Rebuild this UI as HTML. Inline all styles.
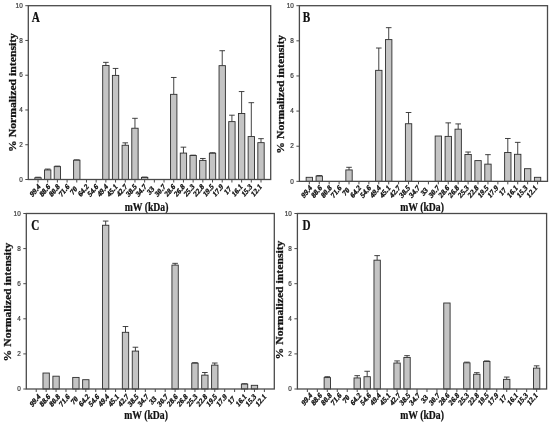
<!DOCTYPE html>
<html><head><meta charset="utf-8"><style>
html,body{margin:0;padding:0;background:#fff;}
body{width:550px;height:423px;overflow:hidden;}
svg{display:block;filter:grayscale(1);}
.fr{fill:none;stroke:#4a4a4a;stroke-width:1.3;}
.tk{stroke:#4a4a4a;stroke-width:1;}
.bar{fill:#c4c4c4;stroke:#2e2e2e;stroke-width:0.9;}
.eb{stroke:#2e2e2e;stroke-width:0.9;}
.yt{font-family:"Liberation Sans",sans-serif;font-size:6.4px;fill:#3a3a3a;stroke:#3a3a3a;stroke-width:0.2;text-anchor:end;}
.xt{font-family:"Liberation Serif",serif;font-weight:bold;font-size:6.8px;fill:#111;stroke:#111;stroke-width:0.3;text-anchor:middle;}
.lt{font-family:"Liberation Serif",serif;font-weight:bold;font-size:11.2px;fill:#111;stroke:#111;stroke-width:0.2;}
.yl{font-family:"Liberation Serif",serif;font-weight:bold;font-size:10px;fill:#111;stroke:#111;stroke-width:0.25;text-anchor:middle;}
.xl{font-family:"Liberation Serif",serif;font-weight:bold;font-size:9.7px;fill:#111;stroke:#111;stroke-width:0.2;text-anchor:middle;}
</style></head><body>
<svg width="550" height="423" viewBox="0 0 550 423">
<line x1="38" y1="177.76" x2="38" y2="177.24" class="eb"/>
<line x1="35.2" y1="177.24" x2="40.8" y2="177.24" class="eb"/>
<rect x="34.82" y="177.76" width="6.35" height="1.74" class="bar"/>
<line x1="47.69" y1="169.94" x2="47.69" y2="169.07" class="eb"/>
<line x1="44.89" y1="169.07" x2="50.49" y2="169.07" class="eb"/>
<rect x="44.52" y="169.94" width="6.35" height="9.56" class="bar"/>
<line x1="57.39" y1="166.64" x2="57.39" y2="166.12" class="eb"/>
<line x1="54.59" y1="166.12" x2="60.19" y2="166.12" class="eb"/>
<rect x="54.21" y="166.64" width="6.35" height="12.86" class="bar"/>
<line x1="76.78" y1="160.21" x2="76.78" y2="159.86" class="eb"/>
<line x1="73.98" y1="159.86" x2="79.58" y2="159.86" class="eb"/>
<rect x="73.61" y="160.21" width="6.35" height="19.29" class="bar"/>
<line x1="105.87" y1="65.49" x2="105.87" y2="62.36" class="eb"/>
<line x1="103.07" y1="62.36" x2="108.67" y2="62.36" class="eb"/>
<rect x="102.69" y="65.49" width="6.35" height="114.01" class="bar"/>
<line x1="115.56" y1="75.39" x2="115.56" y2="68.44" class="eb"/>
<line x1="112.76" y1="68.44" x2="118.36" y2="68.44" class="eb"/>
<rect x="112.39" y="75.39" width="6.35" height="104.11" class="bar"/>
<line x1="125.26" y1="145.26" x2="125.26" y2="142.83" class="eb"/>
<line x1="122.46" y1="142.83" x2="128.06" y2="142.83" class="eb"/>
<rect x="122.08" y="145.26" width="6.35" height="34.24" class="bar"/>
<line x1="134.96" y1="128.23" x2="134.96" y2="118.32" class="eb"/>
<line x1="132.16" y1="118.32" x2="137.76" y2="118.32" class="eb"/>
<rect x="131.78" y="128.23" width="6.35" height="51.27" class="bar"/>
<line x1="144.65" y1="177.41" x2="144.65" y2="177.07" class="eb"/>
<line x1="141.85" y1="177.07" x2="147.45" y2="177.07" class="eb"/>
<rect x="141.48" y="177.41" width="6.35" height="2.09" class="bar"/>
<line x1="173.74" y1="94.34" x2="173.74" y2="77.48" class="eb"/>
<line x1="170.94" y1="77.48" x2="176.54" y2="77.48" class="eb"/>
<rect x="170.56" y="94.34" width="6.35" height="85.16" class="bar"/>
<line x1="183.44" y1="153.08" x2="183.44" y2="147.17" class="eb"/>
<line x1="180.64" y1="147.17" x2="186.24" y2="147.17" class="eb"/>
<rect x="180.26" y="153.08" width="6.35" height="26.42" class="bar"/>
<line x1="193.13" y1="155.52" x2="193.13" y2="155.17" class="eb"/>
<line x1="190.33" y1="155.17" x2="195.93" y2="155.17" class="eb"/>
<rect x="189.96" y="155.52" width="6.35" height="23.98" class="bar"/>
<line x1="202.83" y1="160.38" x2="202.83" y2="158.47" class="eb"/>
<line x1="200.03" y1="158.47" x2="205.63" y2="158.47" class="eb"/>
<rect x="199.65" y="160.38" width="6.35" height="19.12" class="bar"/>
<line x1="212.52" y1="153.26" x2="212.52" y2="152.73" class="eb"/>
<line x1="209.72" y1="152.73" x2="215.32" y2="152.73" class="eb"/>
<rect x="209.35" y="153.26" width="6.35" height="26.24" class="bar"/>
<line x1="222.22" y1="65.66" x2="222.22" y2="50.71" class="eb"/>
<line x1="219.42" y1="50.71" x2="225.02" y2="50.71" class="eb"/>
<rect x="219.04" y="65.66" width="6.35" height="113.84" class="bar"/>
<line x1="231.92" y1="121.62" x2="231.92" y2="115.19" class="eb"/>
<line x1="229.12" y1="115.19" x2="234.72" y2="115.19" class="eb"/>
<rect x="228.74" y="121.62" width="6.35" height="57.88" class="bar"/>
<line x1="241.61" y1="113.46" x2="241.61" y2="91.56" class="eb"/>
<line x1="238.81" y1="91.56" x2="244.41" y2="91.56" class="eb"/>
<rect x="238.44" y="113.46" width="6.35" height="66.04" class="bar"/>
<line x1="251.31" y1="136.57" x2="251.31" y2="102.68" class="eb"/>
<line x1="248.51" y1="102.68" x2="254.11" y2="102.68" class="eb"/>
<rect x="248.13" y="136.57" width="6.35" height="42.93" class="bar"/>
<line x1="261" y1="142.65" x2="261" y2="138.66" class="eb"/>
<line x1="258.2" y1="138.66" x2="263.8" y2="138.66" class="eb"/>
<rect x="257.83" y="142.65" width="6.35" height="36.85" class="bar"/>
<rect x="28.3" y="5.7" width="242.4" height="173.8" class="fr"/>
<line x1="25.3" y1="179.5" x2="28.3" y2="179.5" class="tk"/>
<text transform="translate(22.7 181.7) scale(1 1.2)" class="yt">0</text>
<line x1="25.3" y1="144.74" x2="28.3" y2="144.74" class="tk"/>
<text transform="translate(22.7 146.94) scale(1 1.2)" class="yt">2</text>
<line x1="25.3" y1="109.98" x2="28.3" y2="109.98" class="tk"/>
<text transform="translate(22.7 112.18) scale(1 1.2)" class="yt">4</text>
<line x1="25.3" y1="75.22" x2="28.3" y2="75.22" class="tk"/>
<text transform="translate(22.7 77.42) scale(1 1.2)" class="yt">6</text>
<line x1="25.3" y1="40.46" x2="28.3" y2="40.46" class="tk"/>
<text transform="translate(22.7 42.66) scale(1 1.2)" class="yt">8</text>
<line x1="25.3" y1="5.7" x2="28.3" y2="5.7" class="tk"/>
<text transform="translate(22.7 7.9) scale(1 1.2)" class="yt">10</text>
<line x1="38" y1="179.5" x2="38" y2="182.5" class="tk"/>
<text transform="translate(36.79 192.25) scale(1 1.2) rotate(-45)" class="xt">99.4</text>
<line x1="47.69" y1="179.5" x2="47.69" y2="182.5" class="tk"/>
<text transform="translate(46.41 192.25) scale(1 1.2) rotate(-45)" class="xt">88.6</text>
<line x1="57.39" y1="179.5" x2="57.39" y2="182.5" class="tk"/>
<text transform="translate(56.02 192.25) scale(1 1.2) rotate(-45)" class="xt">80.8</text>
<line x1="67.08" y1="179.5" x2="67.08" y2="182.5" class="tk"/>
<text transform="translate(65.64 192.25) scale(1 1.2) rotate(-45)" class="xt">71.6</text>
<line x1="76.78" y1="179.5" x2="76.78" y2="182.5" class="tk"/>
<text transform="translate(75.26 192.25) scale(1 1.2) rotate(-45)" class="xt">70</text>
<line x1="86.48" y1="179.5" x2="86.48" y2="182.5" class="tk"/>
<text transform="translate(84.88 192.25) scale(1 1.2) rotate(-45)" class="xt">64.2</text>
<line x1="96.17" y1="179.5" x2="96.17" y2="182.5" class="tk"/>
<text transform="translate(94.5 192.25) scale(1 1.2) rotate(-45)" class="xt">54.6</text>
<line x1="105.87" y1="179.5" x2="105.87" y2="182.5" class="tk"/>
<text transform="translate(104.11 192.25) scale(1 1.2) rotate(-45)" class="xt">49.4</text>
<line x1="115.56" y1="179.5" x2="115.56" y2="182.5" class="tk"/>
<text transform="translate(113.73 192.25) scale(1 1.2) rotate(-45)" class="xt">45.1</text>
<line x1="125.26" y1="179.5" x2="125.26" y2="182.5" class="tk"/>
<text transform="translate(123.35 192.25) scale(1 1.2) rotate(-45)" class="xt">42.7</text>
<line x1="134.96" y1="179.5" x2="134.96" y2="182.5" class="tk"/>
<text transform="translate(132.97 192.25) scale(1 1.2) rotate(-45)" class="xt">38.5</text>
<line x1="144.65" y1="179.5" x2="144.65" y2="182.5" class="tk"/>
<text transform="translate(142.58 192.25) scale(1 1.2) rotate(-45)" class="xt">34.7</text>
<line x1="154.35" y1="179.5" x2="154.35" y2="182.5" class="tk"/>
<text transform="translate(152.2 192.25) scale(1 1.2) rotate(-45)" class="xt">33</text>
<line x1="164.04" y1="179.5" x2="164.04" y2="182.5" class="tk"/>
<text transform="translate(161.82 192.25) scale(1 1.2) rotate(-45)" class="xt">30.7</text>
<line x1="173.74" y1="179.5" x2="173.74" y2="182.5" class="tk"/>
<text transform="translate(171.44 192.25) scale(1 1.2) rotate(-45)" class="xt">28.6</text>
<line x1="183.44" y1="179.5" x2="183.44" y2="182.5" class="tk"/>
<text transform="translate(181.05 192.25) scale(1 1.2) rotate(-45)" class="xt">26.8</text>
<line x1="193.13" y1="179.5" x2="193.13" y2="182.5" class="tk"/>
<text transform="translate(190.67 192.25) scale(1 1.2) rotate(-45)" class="xt">25.3</text>
<line x1="202.83" y1="179.5" x2="202.83" y2="182.5" class="tk"/>
<text transform="translate(200.29 192.25) scale(1 1.2) rotate(-45)" class="xt">22.8</text>
<line x1="212.52" y1="179.5" x2="212.52" y2="182.5" class="tk"/>
<text transform="translate(209.91 192.25) scale(1 1.2) rotate(-45)" class="xt">19.5</text>
<line x1="222.22" y1="179.5" x2="222.22" y2="182.5" class="tk"/>
<text transform="translate(219.53 192.25) scale(1 1.2) rotate(-45)" class="xt">17.9</text>
<line x1="231.92" y1="179.5" x2="231.92" y2="182.5" class="tk"/>
<text transform="translate(229.14 192.25) scale(1 1.2) rotate(-45)" class="xt">17</text>
<line x1="241.61" y1="179.5" x2="241.61" y2="182.5" class="tk"/>
<text transform="translate(238.76 192.25) scale(1 1.2) rotate(-45)" class="xt">16.1</text>
<line x1="251.31" y1="179.5" x2="251.31" y2="182.5" class="tk"/>
<text transform="translate(248.38 192.25) scale(1 1.2) rotate(-45)" class="xt">15.3</text>
<line x1="261" y1="179.5" x2="261" y2="182.5" class="tk"/>
<text transform="translate(258 192.25) scale(1 1.2) rotate(-45)" class="xt">12.1</text>
<text transform="translate(31.8 22) scale(1 1.24)" class="lt">A</text>
<text transform="translate(15.7 92.5) rotate(-90) scale(1.17 1)" class="yl">% Normalized intensity</text>
<text transform="translate(146.5 210.6) scale(1 1.2)" class="xl">mW (kDa)</text>
<rect x="306.15" y="177.31" width="6.35" height="4.04" class="bar"/>
<line x1="319.25" y1="176.08" x2="319.25" y2="175.55" class="eb"/>
<line x1="316.45" y1="175.55" x2="322.05" y2="175.55" class="eb"/>
<rect x="316.07" y="176.08" width="6.35" height="5.27" class="bar"/>
<line x1="349.02" y1="169.93" x2="349.02" y2="167.3" class="eb"/>
<line x1="346.22" y1="167.3" x2="351.82" y2="167.3" class="eb"/>
<rect x="345.84" y="169.93" width="6.35" height="11.42" class="bar"/>
<line x1="378.79" y1="70.34" x2="378.79" y2="48.03" class="eb"/>
<line x1="375.99" y1="48.03" x2="381.59" y2="48.03" class="eb"/>
<rect x="375.62" y="70.34" width="6.35" height="111.01" class="bar"/>
<line x1="388.72" y1="39.6" x2="388.72" y2="27.66" class="eb"/>
<line x1="385.92" y1="27.66" x2="391.52" y2="27.66" class="eb"/>
<rect x="385.54" y="39.6" width="6.35" height="141.75" class="bar"/>
<line x1="408.56" y1="123.74" x2="408.56" y2="112.5" class="eb"/>
<line x1="405.76" y1="112.5" x2="411.36" y2="112.5" class="eb"/>
<rect x="405.39" y="123.74" width="6.35" height="57.61" class="bar"/>
<rect x="435.16" y="136.03" width="6.35" height="45.32" class="bar"/>
<line x1="448.26" y1="136.38" x2="448.26" y2="122.86" class="eb"/>
<line x1="445.46" y1="122.86" x2="451.06" y2="122.86" class="eb"/>
<rect x="445.08" y="136.38" width="6.35" height="44.97" class="bar"/>
<line x1="458.18" y1="129.18" x2="458.18" y2="123.91" class="eb"/>
<line x1="455.38" y1="123.91" x2="460.98" y2="123.91" class="eb"/>
<rect x="455.01" y="129.18" width="6.35" height="52.17" class="bar"/>
<line x1="468.11" y1="154.48" x2="468.11" y2="152.02" class="eb"/>
<line x1="465.31" y1="152.02" x2="470.91" y2="152.02" class="eb"/>
<rect x="464.93" y="154.48" width="6.35" height="26.87" class="bar"/>
<rect x="474.86" y="160.62" width="6.35" height="20.73" class="bar"/>
<line x1="487.96" y1="164.14" x2="487.96" y2="154.65" class="eb"/>
<line x1="485.16" y1="154.65" x2="490.76" y2="154.65" class="eb"/>
<rect x="484.78" y="164.14" width="6.35" height="17.21" class="bar"/>
<line x1="507.8" y1="152.54" x2="507.8" y2="138.49" class="eb"/>
<line x1="505" y1="138.49" x2="510.6" y2="138.49" class="eb"/>
<rect x="504.63" y="152.54" width="6.35" height="28.81" class="bar"/>
<line x1="517.73" y1="154.3" x2="517.73" y2="142.36" class="eb"/>
<line x1="514.93" y1="142.36" x2="520.53" y2="142.36" class="eb"/>
<rect x="514.55" y="154.3" width="6.35" height="27.05" class="bar"/>
<rect x="524.48" y="168.7" width="6.35" height="12.65" class="bar"/>
<rect x="534.4" y="177.31" width="6.35" height="4.04" class="bar"/>
<rect x="299.4" y="5.7" width="248.1" height="175.65" class="fr"/>
<line x1="296.4" y1="181.35" x2="299.4" y2="181.35" class="tk"/>
<text transform="translate(293.8 183.55) scale(1 1.2)" class="yt">0</text>
<line x1="296.4" y1="146.22" x2="299.4" y2="146.22" class="tk"/>
<text transform="translate(293.8 148.42) scale(1 1.2)" class="yt">2</text>
<line x1="296.4" y1="111.09" x2="299.4" y2="111.09" class="tk"/>
<text transform="translate(293.8 113.29) scale(1 1.2)" class="yt">4</text>
<line x1="296.4" y1="75.96" x2="299.4" y2="75.96" class="tk"/>
<text transform="translate(293.8 78.16) scale(1 1.2)" class="yt">6</text>
<line x1="296.4" y1="40.83" x2="299.4" y2="40.83" class="tk"/>
<text transform="translate(293.8 43.03) scale(1 1.2)" class="yt">8</text>
<line x1="296.4" y1="5.7" x2="299.4" y2="5.7" class="tk"/>
<text transform="translate(293.8 7.9) scale(1 1.2)" class="yt">10</text>
<line x1="309.32" y1="181.35" x2="309.32" y2="184.35" class="tk"/>
<text transform="translate(308.32 193.4) scale(1 1.2) rotate(-45)" class="xt">99.4</text>
<line x1="319.25" y1="181.35" x2="319.25" y2="184.35" class="tk"/>
<text transform="translate(318.11 193.4) scale(1 1.2) rotate(-45)" class="xt">88.6</text>
<line x1="329.17" y1="181.35" x2="329.17" y2="184.35" class="tk"/>
<text transform="translate(327.9 193.4) scale(1 1.2) rotate(-45)" class="xt">80.8</text>
<line x1="339.1" y1="181.35" x2="339.1" y2="184.35" class="tk"/>
<text transform="translate(337.7 193.4) scale(1 1.2) rotate(-45)" class="xt">71.6</text>
<line x1="349.02" y1="181.35" x2="349.02" y2="184.35" class="tk"/>
<text transform="translate(347.49 193.4) scale(1 1.2) rotate(-45)" class="xt">70</text>
<line x1="358.94" y1="181.35" x2="358.94" y2="184.35" class="tk"/>
<text transform="translate(357.28 193.4) scale(1 1.2) rotate(-45)" class="xt">64.2</text>
<line x1="368.87" y1="181.35" x2="368.87" y2="184.35" class="tk"/>
<text transform="translate(367.08 193.4) scale(1 1.2) rotate(-45)" class="xt">54.6</text>
<line x1="378.79" y1="181.35" x2="378.79" y2="184.35" class="tk"/>
<text transform="translate(376.87 193.4) scale(1 1.2) rotate(-45)" class="xt">49.4</text>
<line x1="388.72" y1="181.35" x2="388.72" y2="184.35" class="tk"/>
<text transform="translate(386.67 193.4) scale(1 1.2) rotate(-45)" class="xt">45.1</text>
<line x1="398.64" y1="181.35" x2="398.64" y2="184.35" class="tk"/>
<text transform="translate(396.46 193.4) scale(1 1.2) rotate(-45)" class="xt">42.7</text>
<line x1="408.56" y1="181.35" x2="408.56" y2="184.35" class="tk"/>
<text transform="translate(406.25 193.4) scale(1 1.2) rotate(-45)" class="xt">38.5</text>
<line x1="418.49" y1="181.35" x2="418.49" y2="184.35" class="tk"/>
<text transform="translate(416.05 193.4) scale(1 1.2) rotate(-45)" class="xt">34.7</text>
<line x1="428.41" y1="181.35" x2="428.41" y2="184.35" class="tk"/>
<text transform="translate(425.84 193.4) scale(1 1.2) rotate(-45)" class="xt">33</text>
<line x1="438.34" y1="181.35" x2="438.34" y2="184.35" class="tk"/>
<text transform="translate(435.63 193.4) scale(1 1.2) rotate(-45)" class="xt">30.7</text>
<line x1="448.26" y1="181.35" x2="448.26" y2="184.35" class="tk"/>
<text transform="translate(445.43 193.4) scale(1 1.2) rotate(-45)" class="xt">28.6</text>
<line x1="458.18" y1="181.35" x2="458.18" y2="184.35" class="tk"/>
<text transform="translate(455.22 193.4) scale(1 1.2) rotate(-45)" class="xt">26.8</text>
<line x1="468.11" y1="181.35" x2="468.11" y2="184.35" class="tk"/>
<text transform="translate(465.01 193.4) scale(1 1.2) rotate(-45)" class="xt">25.3</text>
<line x1="478.03" y1="181.35" x2="478.03" y2="184.35" class="tk"/>
<text transform="translate(474.81 193.4) scale(1 1.2) rotate(-45)" class="xt">22.8</text>
<line x1="487.96" y1="181.35" x2="487.96" y2="184.35" class="tk"/>
<text transform="translate(484.6 193.4) scale(1 1.2) rotate(-45)" class="xt">19.5</text>
<line x1="497.88" y1="181.35" x2="497.88" y2="184.35" class="tk"/>
<text transform="translate(494.39 193.4) scale(1 1.2) rotate(-45)" class="xt">17.9</text>
<line x1="507.8" y1="181.35" x2="507.8" y2="184.35" class="tk"/>
<text transform="translate(504.19 193.4) scale(1 1.2) rotate(-45)" class="xt">17</text>
<line x1="517.73" y1="181.35" x2="517.73" y2="184.35" class="tk"/>
<text transform="translate(513.98 193.4) scale(1 1.2) rotate(-45)" class="xt">16.1</text>
<line x1="527.65" y1="181.35" x2="527.65" y2="184.35" class="tk"/>
<text transform="translate(523.78 193.4) scale(1 1.2) rotate(-45)" class="xt">15.3</text>
<line x1="537.58" y1="181.35" x2="537.58" y2="184.35" class="tk"/>
<text transform="translate(533.57 193.4) scale(1 1.2) rotate(-45)" class="xt">12.1</text>
<text transform="translate(302.8 22) scale(1 1.24)" class="lt">B</text>
<text transform="translate(283.5 94.2) rotate(-90) scale(1.17 1)" class="yl">% Normalized intensity</text>
<text transform="translate(422 210.6) scale(1 1.2)" class="xl">mW (kDa)</text>
<rect x="42.97" y="373.03" width="6.35" height="15.97" class="bar"/>
<rect x="52.89" y="376.19" width="6.35" height="12.81" class="bar"/>
<rect x="72.73" y="377.42" width="6.35" height="11.58" class="bar"/>
<rect x="82.64" y="379.7" width="6.35" height="9.3" class="bar"/>
<line x1="105.66" y1="225.26" x2="105.66" y2="221.05" class="eb"/>
<line x1="102.86" y1="221.05" x2="108.46" y2="221.05" class="eb"/>
<rect x="102.48" y="225.26" width="6.35" height="163.74" class="bar"/>
<line x1="125.5" y1="332.31" x2="125.5" y2="326.52" class="eb"/>
<line x1="122.7" y1="326.52" x2="128.3" y2="326.52" class="eb"/>
<rect x="122.33" y="332.31" width="6.35" height="56.69" class="bar"/>
<line x1="135.42" y1="351.09" x2="135.42" y2="347.23" class="eb"/>
<line x1="132.62" y1="347.23" x2="138.22" y2="347.23" class="eb"/>
<rect x="132.25" y="351.09" width="6.35" height="37.91" class="bar"/>
<line x1="175.1" y1="265.1" x2="175.1" y2="263.34" class="eb"/>
<line x1="172.3" y1="263.34" x2="177.9" y2="263.34" class="eb"/>
<rect x="171.93" y="265.1" width="6.35" height="123.9" class="bar"/>
<line x1="194.94" y1="363.2" x2="194.94" y2="362.68" class="eb"/>
<line x1="192.14" y1="362.68" x2="197.74" y2="362.68" class="eb"/>
<rect x="191.76" y="363.2" width="6.35" height="25.8" class="bar"/>
<line x1="204.86" y1="375.14" x2="204.86" y2="372.5" class="eb"/>
<line x1="202.06" y1="372.5" x2="207.66" y2="372.5" class="eb"/>
<rect x="201.69" y="375.14" width="6.35" height="13.86" class="bar"/>
<line x1="214.78" y1="365.13" x2="214.78" y2="363.03" class="eb"/>
<line x1="211.98" y1="363.03" x2="217.58" y2="363.03" class="eb"/>
<rect x="211.6" y="365.13" width="6.35" height="23.87" class="bar"/>
<line x1="244.54" y1="384.09" x2="244.54" y2="383.74" class="eb"/>
<line x1="241.74" y1="383.74" x2="247.34" y2="383.74" class="eb"/>
<rect x="241.37" y="384.09" width="6.35" height="4.91" class="bar"/>
<rect x="251.28" y="385.31" width="6.35" height="3.69" class="bar"/>
<rect x="26.3" y="213.5" width="248" height="175.5" class="fr"/>
<line x1="23.3" y1="389" x2="26.3" y2="389" class="tk"/>
<text transform="translate(20.7 391.2) scale(1 1.2)" class="yt">0</text>
<line x1="23.3" y1="353.9" x2="26.3" y2="353.9" class="tk"/>
<text transform="translate(20.7 356.1) scale(1 1.2)" class="yt">2</text>
<line x1="23.3" y1="318.8" x2="26.3" y2="318.8" class="tk"/>
<text transform="translate(20.7 321) scale(1 1.2)" class="yt">4</text>
<line x1="23.3" y1="283.7" x2="26.3" y2="283.7" class="tk"/>
<text transform="translate(20.7 285.9) scale(1 1.2)" class="yt">6</text>
<line x1="23.3" y1="248.6" x2="26.3" y2="248.6" class="tk"/>
<text transform="translate(20.7 250.8) scale(1 1.2)" class="yt">8</text>
<line x1="23.3" y1="213.5" x2="26.3" y2="213.5" class="tk"/>
<text transform="translate(20.7 215.7) scale(1 1.2)" class="yt">10</text>
<line x1="36.22" y1="389" x2="36.22" y2="392" class="tk"/>
<text transform="translate(36.61 402.2) scale(1 1.2) rotate(-45)" class="xt">99.4</text>
<line x1="46.14" y1="389" x2="46.14" y2="392" class="tk"/>
<text transform="translate(46.43 402.2) scale(1 1.2) rotate(-45)" class="xt">88.6</text>
<line x1="56.06" y1="389" x2="56.06" y2="392" class="tk"/>
<text transform="translate(56.24 402.2) scale(1 1.2) rotate(-45)" class="xt">80.8</text>
<line x1="65.98" y1="389" x2="65.98" y2="392" class="tk"/>
<text transform="translate(66.06 402.2) scale(1 1.2) rotate(-45)" class="xt">71.6</text>
<line x1="75.9" y1="389" x2="75.9" y2="392" class="tk"/>
<text transform="translate(75.88 402.2) scale(1 1.2) rotate(-45)" class="xt">70</text>
<line x1="85.82" y1="389" x2="85.82" y2="392" class="tk"/>
<text transform="translate(85.69 402.2) scale(1 1.2) rotate(-45)" class="xt">64.2</text>
<line x1="95.74" y1="389" x2="95.74" y2="392" class="tk"/>
<text transform="translate(95.51 402.2) scale(1 1.2) rotate(-45)" class="xt">54.6</text>
<line x1="105.66" y1="389" x2="105.66" y2="392" class="tk"/>
<text transform="translate(105.32 402.2) scale(1 1.2) rotate(-45)" class="xt">49.4</text>
<line x1="115.58" y1="389" x2="115.58" y2="392" class="tk"/>
<text transform="translate(115.14 402.2) scale(1 1.2) rotate(-45)" class="xt">45.1</text>
<line x1="125.5" y1="389" x2="125.5" y2="392" class="tk"/>
<text transform="translate(124.95 402.2) scale(1 1.2) rotate(-45)" class="xt">42.7</text>
<line x1="135.42" y1="389" x2="135.42" y2="392" class="tk"/>
<text transform="translate(134.77 402.2) scale(1 1.2) rotate(-45)" class="xt">38.5</text>
<line x1="145.34" y1="389" x2="145.34" y2="392" class="tk"/>
<text transform="translate(144.58 402.2) scale(1 1.2) rotate(-45)" class="xt">34.7</text>
<line x1="155.26" y1="389" x2="155.26" y2="392" class="tk"/>
<text transform="translate(154.4 402.2) scale(1 1.2) rotate(-45)" class="xt">33</text>
<line x1="165.18" y1="389" x2="165.18" y2="392" class="tk"/>
<text transform="translate(164.22 402.2) scale(1 1.2) rotate(-45)" class="xt">30.7</text>
<line x1="175.1" y1="389" x2="175.1" y2="392" class="tk"/>
<text transform="translate(174.03 402.2) scale(1 1.2) rotate(-45)" class="xt">28.6</text>
<line x1="185.02" y1="389" x2="185.02" y2="392" class="tk"/>
<text transform="translate(183.85 402.2) scale(1 1.2) rotate(-45)" class="xt">26.8</text>
<line x1="194.94" y1="389" x2="194.94" y2="392" class="tk"/>
<text transform="translate(193.66 402.2) scale(1 1.2) rotate(-45)" class="xt">25.3</text>
<line x1="204.86" y1="389" x2="204.86" y2="392" class="tk"/>
<text transform="translate(203.48 402.2) scale(1 1.2) rotate(-45)" class="xt">22.8</text>
<line x1="214.78" y1="389" x2="214.78" y2="392" class="tk"/>
<text transform="translate(213.29 402.2) scale(1 1.2) rotate(-45)" class="xt">19.5</text>
<line x1="224.7" y1="389" x2="224.7" y2="392" class="tk"/>
<text transform="translate(223.11 402.2) scale(1 1.2) rotate(-45)" class="xt">17.9</text>
<line x1="234.62" y1="389" x2="234.62" y2="392" class="tk"/>
<text transform="translate(232.93 402.2) scale(1 1.2) rotate(-45)" class="xt">17</text>
<line x1="244.54" y1="389" x2="244.54" y2="392" class="tk"/>
<text transform="translate(242.74 402.2) scale(1 1.2) rotate(-45)" class="xt">16.1</text>
<line x1="254.46" y1="389" x2="254.46" y2="392" class="tk"/>
<text transform="translate(252.56 402.2) scale(1 1.2) rotate(-45)" class="xt">15.3</text>
<line x1="264.38" y1="389" x2="264.38" y2="392" class="tk"/>
<text transform="translate(262.37 402.2) scale(1 1.2) rotate(-45)" class="xt">12.1</text>
<text transform="translate(31.2 229.8) scale(1 1.24)" class="lt">C</text>
<text transform="translate(10.9 302) rotate(-90) scale(1.17 1)" class="yl">% Normalized intensity</text>
<text transform="translate(146 418.9) scale(1 1.2)" class="xl">mW (kDa)</text>
<line x1="327.3" y1="377.59" x2="327.3" y2="376.71" class="eb"/>
<line x1="324.5" y1="376.71" x2="330.1" y2="376.71" class="eb"/>
<rect x="324.13" y="377.59" width="6.35" height="11.41" class="bar"/>
<line x1="357.21" y1="377.94" x2="357.21" y2="375.66" class="eb"/>
<line x1="354.41" y1="375.66" x2="360.01" y2="375.66" class="eb"/>
<rect x="354.03" y="377.94" width="6.35" height="11.06" class="bar"/>
<line x1="367.18" y1="376.71" x2="367.18" y2="371.27" class="eb"/>
<line x1="364.38" y1="371.27" x2="369.98" y2="371.27" class="eb"/>
<rect x="364" y="376.71" width="6.35" height="12.29" class="bar"/>
<line x1="377.14" y1="260.18" x2="377.14" y2="255.62" class="eb"/>
<line x1="374.34" y1="255.62" x2="379.94" y2="255.62" class="eb"/>
<rect x="373.97" y="260.18" width="6.35" height="128.82" class="bar"/>
<line x1="397.08" y1="363.03" x2="397.08" y2="360.92" class="eb"/>
<line x1="394.28" y1="360.92" x2="399.88" y2="360.92" class="eb"/>
<rect x="393.9" y="363.03" width="6.35" height="25.97" class="bar"/>
<line x1="407.05" y1="357.41" x2="407.05" y2="355.65" class="eb"/>
<line x1="404.25" y1="355.65" x2="409.85" y2="355.65" class="eb"/>
<rect x="403.87" y="357.41" width="6.35" height="31.59" class="bar"/>
<rect x="443.75" y="303" width="6.35" height="86" class="bar"/>
<line x1="466.86" y1="362.85" x2="466.86" y2="362.15" class="eb"/>
<line x1="464.06" y1="362.15" x2="469.66" y2="362.15" class="eb"/>
<rect x="463.68" y="362.85" width="6.35" height="26.15" class="bar"/>
<line x1="476.82" y1="374.26" x2="476.82" y2="372.68" class="eb"/>
<line x1="474.02" y1="372.68" x2="479.62" y2="372.68" class="eb"/>
<rect x="473.65" y="374.26" width="6.35" height="14.74" class="bar"/>
<line x1="486.79" y1="361.45" x2="486.79" y2="360.92" class="eb"/>
<line x1="483.99" y1="360.92" x2="489.59" y2="360.92" class="eb"/>
<rect x="483.62" y="361.45" width="6.35" height="27.55" class="bar"/>
<line x1="506.73" y1="379.35" x2="506.73" y2="377.07" class="eb"/>
<line x1="503.93" y1="377.07" x2="509.53" y2="377.07" class="eb"/>
<rect x="503.55" y="379.35" width="6.35" height="9.65" class="bar"/>
<line x1="536.63" y1="368.12" x2="536.63" y2="365.83" class="eb"/>
<line x1="533.83" y1="365.83" x2="539.43" y2="365.83" class="eb"/>
<rect x="533.46" y="368.12" width="6.35" height="20.88" class="bar"/>
<rect x="297.4" y="213.5" width="249.2" height="175.5" class="fr"/>
<line x1="294.4" y1="389" x2="297.4" y2="389" class="tk"/>
<text transform="translate(291.8 391.2) scale(1 1.2)" class="yt">0</text>
<line x1="294.4" y1="353.9" x2="297.4" y2="353.9" class="tk"/>
<text transform="translate(291.8 356.1) scale(1 1.2)" class="yt">2</text>
<line x1="294.4" y1="318.8" x2="297.4" y2="318.8" class="tk"/>
<text transform="translate(291.8 321) scale(1 1.2)" class="yt">4</text>
<line x1="294.4" y1="283.7" x2="297.4" y2="283.7" class="tk"/>
<text transform="translate(291.8 285.9) scale(1 1.2)" class="yt">6</text>
<line x1="294.4" y1="248.6" x2="297.4" y2="248.6" class="tk"/>
<text transform="translate(291.8 250.8) scale(1 1.2)" class="yt">8</text>
<line x1="294.4" y1="213.5" x2="297.4" y2="213.5" class="tk"/>
<text transform="translate(291.8 215.7) scale(1 1.2)" class="yt">10</text>
<line x1="307.37" y1="389" x2="307.37" y2="392" class="tk"/>
<text transform="translate(308.36 400.85) scale(1 1.2) rotate(-45)" class="xt">99.4</text>
<line x1="317.34" y1="389" x2="317.34" y2="392" class="tk"/>
<text transform="translate(318.17 400.85) scale(1 1.2) rotate(-45)" class="xt">88.6</text>
<line x1="327.3" y1="389" x2="327.3" y2="392" class="tk"/>
<text transform="translate(327.97 400.85) scale(1 1.2) rotate(-45)" class="xt">80.8</text>
<line x1="337.27" y1="389" x2="337.27" y2="392" class="tk"/>
<text transform="translate(337.78 400.85) scale(1 1.2) rotate(-45)" class="xt">71.6</text>
<line x1="347.24" y1="389" x2="347.24" y2="392" class="tk"/>
<text transform="translate(347.59 400.85) scale(1 1.2) rotate(-45)" class="xt">70</text>
<line x1="357.21" y1="389" x2="357.21" y2="392" class="tk"/>
<text transform="translate(357.4 400.85) scale(1 1.2) rotate(-45)" class="xt">64.2</text>
<line x1="367.18" y1="389" x2="367.18" y2="392" class="tk"/>
<text transform="translate(367.2 400.85) scale(1 1.2) rotate(-45)" class="xt">54.6</text>
<line x1="377.14" y1="389" x2="377.14" y2="392" class="tk"/>
<text transform="translate(377.01 400.85) scale(1 1.2) rotate(-45)" class="xt">49.4</text>
<line x1="387.11" y1="389" x2="387.11" y2="392" class="tk"/>
<text transform="translate(386.82 400.85) scale(1 1.2) rotate(-45)" class="xt">45.1</text>
<line x1="397.08" y1="389" x2="397.08" y2="392" class="tk"/>
<text transform="translate(396.62 400.85) scale(1 1.2) rotate(-45)" class="xt">42.7</text>
<line x1="407.05" y1="389" x2="407.05" y2="392" class="tk"/>
<text transform="translate(406.43 400.85) scale(1 1.2) rotate(-45)" class="xt">38.5</text>
<line x1="417.02" y1="389" x2="417.02" y2="392" class="tk"/>
<text transform="translate(416.24 400.85) scale(1 1.2) rotate(-45)" class="xt">34.7</text>
<line x1="426.98" y1="389" x2="426.98" y2="392" class="tk"/>
<text transform="translate(426.05 400.85) scale(1 1.2) rotate(-45)" class="xt">33</text>
<line x1="436.95" y1="389" x2="436.95" y2="392" class="tk"/>
<text transform="translate(435.85 400.85) scale(1 1.2) rotate(-45)" class="xt">30.7</text>
<line x1="446.92" y1="389" x2="446.92" y2="392" class="tk"/>
<text transform="translate(445.66 400.85) scale(1 1.2) rotate(-45)" class="xt">28.6</text>
<line x1="456.89" y1="389" x2="456.89" y2="392" class="tk"/>
<text transform="translate(455.47 400.85) scale(1 1.2) rotate(-45)" class="xt">26.8</text>
<line x1="466.86" y1="389" x2="466.86" y2="392" class="tk"/>
<text transform="translate(465.27 400.85) scale(1 1.2) rotate(-45)" class="xt">25.3</text>
<line x1="476.82" y1="389" x2="476.82" y2="392" class="tk"/>
<text transform="translate(475.08 400.85) scale(1 1.2) rotate(-45)" class="xt">22.8</text>
<line x1="486.79" y1="389" x2="486.79" y2="392" class="tk"/>
<text transform="translate(484.89 400.85) scale(1 1.2) rotate(-45)" class="xt">19.5</text>
<line x1="496.76" y1="389" x2="496.76" y2="392" class="tk"/>
<text transform="translate(494.7 400.85) scale(1 1.2) rotate(-45)" class="xt">17.9</text>
<line x1="506.73" y1="389" x2="506.73" y2="392" class="tk"/>
<text transform="translate(504.5 400.85) scale(1 1.2) rotate(-45)" class="xt">17</text>
<line x1="516.7" y1="389" x2="516.7" y2="392" class="tk"/>
<text transform="translate(514.31 400.85) scale(1 1.2) rotate(-45)" class="xt">16.1</text>
<line x1="526.66" y1="389" x2="526.66" y2="392" class="tk"/>
<text transform="translate(524.12 400.85) scale(1 1.2) rotate(-45)" class="xt">15.3</text>
<line x1="536.63" y1="389" x2="536.63" y2="392" class="tk"/>
<text transform="translate(533.92 400.85) scale(1 1.2) rotate(-45)" class="xt">12.1</text>
<text transform="translate(302.6 229.8) scale(1 1.24)" class="lt">D</text>
<text transform="translate(283.3 300) rotate(-90) scale(1.17 1)" class="yl">% Normalized intensity</text>
<text transform="translate(422 418.9) scale(1 1.2)" class="xl">mW (kDa)</text>
</svg>
</body></html>
